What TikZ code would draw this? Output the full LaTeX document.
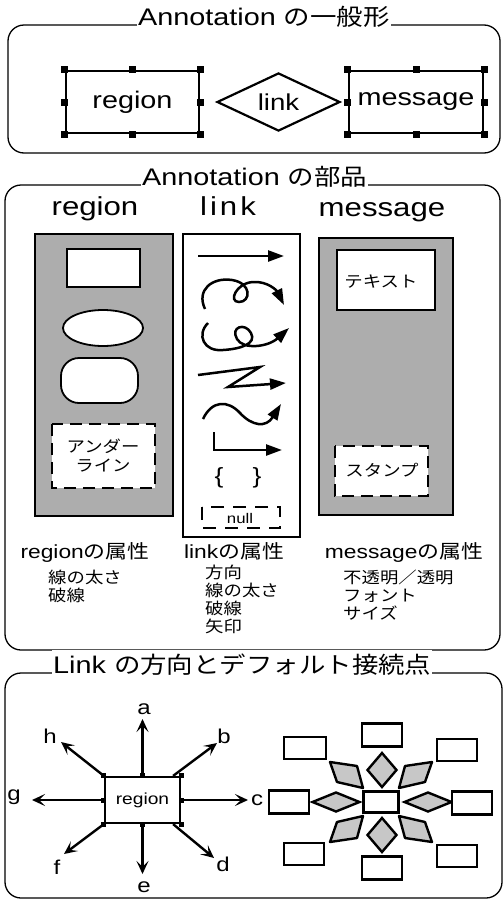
\documentclass[tikz,border=0pt]{standalone}
\usepackage{fontspec}
\setmainfont{Liberation Sans}[FakeStretch=1.2]
\newfontfamily\jp{Noto Sans CJK JP}[FakeStretch=1.15]
\usetikzlibrary{arrows.meta,shapes.geometric}
\newcommand\fs[1]{\fontsize{#1}{#1}\selectfont}
\begin{document}
\begin{tikzpicture}[x=1pt,y=-1pt,
  frame/.style={line width=1.3pt, rounded corners=16pt},
  ttl/.style={fill=white, inner xsep=1pt, inner ysep=3pt, anchor=base west},
  hbox/.style={draw, line width=2.2pt, fill=white, inner sep=0pt},
  hdl/.style={fill=black, minimum size=7pt, inner sep=0pt},
  sdl/.style={fill=black, minimum size=5pt, inner sep=0pt},
  panel/.style={draw, line width=1.6pt, fill=black!32},
  wbox/.style={draw, line width=1.8pt, fill=white},
  dbox/.style={draw, line width=2.4pt, fill=white, dash pattern=on 12pt off 7pt},
  lk/.style={line width=2.5pt, -{Triangle[length=16pt,width=11pt]}},
  lt/.style={inner sep=0pt, anchor=base west},
  ar/.style={line width=2.4pt, -{Stealth[length=13pt,width=12pt,inset=6pt]}},
  rb/.style={draw, line width=2.4pt, fill=white, minimum width=40pt, minimum height=23pt, inner sep=0pt},
  dm/.style={draw, diamond, line width=2.4pt, fill=black!22, inner sep=0pt},
  para/.style={draw, line width=2.4pt, fill=black!22, line join=round}
]
\useasboundingbox (0,0) rectangle (503,900);
\fill[white] (0,0) rectangle (503,900);

% ---------- Section 1 ----------
\draw[frame] (8,25) rectangle (500,153);
\node[ttl, font=\fs{24}] (t1) at (137,25) {Annotation {\jp\fs{23}の一般形}};
\node[hbox, minimum width=133pt, minimum height=62pt, font=\fs{24}] (rg) at (132.5,102) {region};
\node[hbox, minimum width=134pt, minimum height=62pt, font=\fs{24}] (ms) at (416,102) {message};
\node[draw, diamond, line width=2.2pt, minimum width=123pt, minimum height=52pt, inner sep=0pt, fill=white, font=\fs{23}] (lk) at (278.5,102) {link};
\foreach \n in {rg,ms}
  \foreach \a in {north west,north,north east,west,east,south west,south,south east}
    \node[hdl] at (\n.\a) {};

% ---------- Section 2 ----------
\draw[frame] (5,185) rectangle (500,650);
\node[ttl, font=\fs{24}] (t2) at (141,185) {Annotation {\jp\fs{23}の部品}};
\node[font=\fs{26}, anchor=base, inner sep=0pt] (h1) at (95,215) {region};
\node[font=\fs{26}, anchor=base, inner sep=0pt] (h2) at (228,215) {l\kern3pt i\kern3pt n\kern3pt k};
\node[font=\fs{26}, anchor=base, inner sep=0pt] (h3) at (382,216) {message};

% region panel
\draw[panel] (35,234) rectangle (173,516);
\draw[wbox] (67,249) rectangle (140,287);
\draw[wbox] (103,328) ellipse [x radius=40, y radius=18];
\draw[wbox, rounded corners=18pt] (61,358) rectangle (138,403);
\draw[dbox] (52,424) rectangle (155,488);
\node[font=\jp\fs{16}, inner sep=0pt] (ul1) at (103,446) {アンダー};
\node[font=\jp\fs{16}, inner sep=0pt] (ul2) at (103,466) {ライン};

% link panel
\draw[wbox] (183,234) rectangle (300,537);
\draw[lk] (198,256) -- (284,256);
\draw[lk] (205,309) .. controls (196,290) and (212,277) .. (232,280)
  .. controls (252,283) and (251,302) .. (239,302)
  .. controls (228,302) and (236,283) .. (253,282)
  .. controls (268,281) and (277,291) .. (284,305);
\draw[lk] (208,323) .. controls (196,335) and (204,352) .. (223,350)
  .. controls (240,349) and (257,344) .. (251,333)
  .. controls (245,322) and (230,327) .. (237,339)
  .. controls (243,350) and (268,347) .. (289,328);
\draw[lk, line join=miter] (198,375) -- (260,367) -- (228,387) -- (286,383);
\draw[lk] (203,419) .. controls (212,400) and (228,400) .. (240,413)
  .. controls (252,426) and (266,428) .. (281,404);
\draw[lk] (214,432) -- (214,450) -- (282,450);
\node[font=\fs{22}, inner sep=0pt] (br1) at (219,478) {\{};
\node[font=\fs{22}, inner sep=0pt] (br2) at (257,478) {\}};
\draw[line width=1.8pt, dash pattern=on 13pt off 9pt] (202,507) rectangle (280,528);
\node[font=\fs{14}, inner sep=0pt] (nl) at (240,518) {null};

% message panel
\draw[panel] (319,238) rectangle (453,515);
\draw[wbox] (337,250) rectangle (435,310);
\node[font=\jp\fs{16}, inner sep=0pt] (tx) at (381,282) {テキスト};
\draw[dbox] (335,446) rectangle (428,496);
\node[font=\jp\fs{16}, inner sep=0pt] (st) at (382,470) {スタンプ};

% attributes
\node[font=\fs{19}, anchor=base, inner sep=0pt] (a1) at (85,558) {region{\jp の属性}};
\node[font=\fs{19}, anchor=base, inner sep=0pt] (a2) at (234,558) {link{\jp の属性}};
\node[font=\fs{19}, anchor=base, inner sep=0pt] (a3) at (404,558) {message{\jp の属性}};
\node[lt, font=\jp\fs{16}] (r1) at (48,583) {線の太さ};
\node[lt, font=\jp\fs{16}] (r2) at (48,601) {破線};
\node[lt, font=\jp\fs{16}] (l1) at (205,578) {方向};
\node[lt, font=\jp\fs{16}] (l2) at (205,596) {線の太さ};
\node[lt, font=\jp\fs{16}] (l3) at (205,614) {破線};
\node[lt, font=\jp\fs{16}] (l4) at (205,632) {矢印};
\node[lt, font=\jp\fs{16}] (m1) at (343,583) {不透明／透明};
\node[lt, font=\jp\fs{16}] (m2) at (343,601) {フォント};
\node[lt, font=\jp\fs{16}] (m3) at (343,619) {サイズ};

% ---------- Section 3 ----------
\draw[frame] (5,673) rectangle (502,898);
\node[ttl, font=\fs{24}] (t3) at (52,673) {Link {\jp\fs{23}の方向とデフォルト接続点}};

\node[hbox, minimum width=75pt, minimum height=46pt, font=\fs{16}] (r3) at (142.5,800) {region};
\foreach \a in {north west,north,north east,west,east,south west,south,south east}
  \node[sdl] at (r3.\a) {};
\coordinate (ta) at (142.5,719);
\coordinate (tb) at (217,743);
\coordinate (tc) at (248,800);
\coordinate (td) at (214,858);
\coordinate (te) at (142.5,874);
\coordinate (tf) at (64,854);
\coordinate (tg) at (32,800);
\coordinate (th) at (61,742);
\coordinate (sb) at ([xshift=-8pt]r3.north east);
\coordinate (sd) at ([xshift=-8pt]r3.south east);
\draw[ar] (r3.north) -- (ta);
\draw[ar] (sb) -- (tb);
\draw[ar] (r3.east) -- (tc);
\draw[ar] (sd) -- (td);
\draw[ar] (r3.south) -- (te);
\draw[ar] (r3.south west) -- (tf);
\draw[ar] (r3.west) -- (tg);
\draw[ar] (r3.north west) -- (th);
\node[font=\fs{20}, inner sep=0pt] (la) at (144,709) {a};
\node[font=\fs{20}, inner sep=0pt] (lb) at (224,736) {b};
\node[font=\fs{20}, inner sep=0pt] (lc) at (257,800) {c};
\node[font=\fs{20}, inner sep=0pt] (ld) at (223,864) {d};
\node[font=\fs{20}, inner sep=0pt] (le) at (144,887) {e};
\node[font=\fs{20}, inner sep=0pt] (lf) at (57,867) {f};
\node[font=\fs{20}, inner sep=0pt] (lg) at (14,797) {g};
\node[font=\fs{20}, inner sep=0pt] (lh) at (50,736) {h};

\begin{scope}[shift={(381,802)}]
  \foreach \sx/\sy in {1/1,-1/1,1/-1,-1/-1}
    \draw[para] (\sx*51,\sy*40) -- (\sx*24,\sy*36) -- (\sx*18,\sy*14) -- (\sx*44,\sy*20) -- cycle;
  \node[dm, minimum width=30pt, minimum height=35pt] (dt) at (1,-32) {};
  \node[dm, minimum width=30pt, minimum height=35pt] (db) at (1,33) {};
  \node[dm, minimum width=48pt, minimum height=20pt] (dl) at (-45,0) {};
  \node[dm, minimum width=48pt, minimum height=20pt] (dr) at (47,0) {};
  \node[rb, minimum width=35pt, minimum height=21pt] (rc) at (0,0) {};
  \node[rb] (rt) at (1,-67) {};
  \node[rb] (rbt) at (1,66) {};
  \node[rb] (rl) at (-92,0) {};
  \node[rb] (rr) at (91,1) {};
  \node[rb, minimum width=42pt, minimum height=22pt] (c1) at (-76,-54) {};
  \node[rb, minimum width=40pt, minimum height=22pt] (c2) at (76,-52) {};
  \node[rb, minimum width=40pt, minimum height=22pt] (c3) at (-77,52) {};
  \node[rb, minimum width=40pt, minimum height=22pt] (c4) at (76,54) {};
\end{scope}
\end{tikzpicture}
\end{document}
